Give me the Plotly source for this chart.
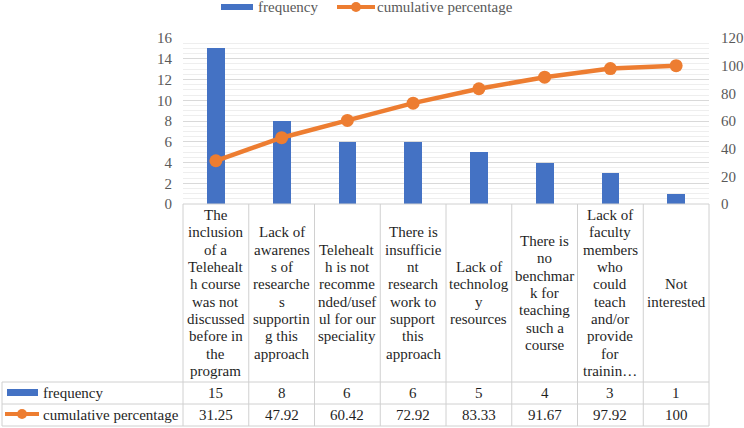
import plotly.graph_objects as go

# ---------------- data ----------------
category_lines = [
    ["The", "inclusion", "of a", "Telehealt", "h course", "was not", "discussed", "before in", "the", "program"],
    ["Lack of", "awarenes", "s of", "researche", "s", "supportin", "g this", "approach"],
    ["Telehealt", "h is not", "recomme", "nded/usef", "ul for our", "speciality"],
    ["There is", "insufficie", "nt", "research", "work to", "support", "this", "approach"],
    ["Lack of", "technolog", "y", "resources"],
    ["There is", "no", "benchmar", "k for", "teaching", "such a", "course"],
    ["Lack of", "faculty", "members", "who", "could", "teach", "and/or", "provide", "for", "trainin…"],
    ["Not", "interested"],
]
frequency = [15, 8, 6, 6, 5, 4, 3, 1]
cumulative_percentage = [31.25, 47.92, 60.42, 72.92, 83.33, 91.67, 97.92, 100]
frequency_labels = ["15", "8", "6", "6", "5", "4", "3", "1"]
cumulative_labels = ["31.25", "47.92", "60.42", "72.92", "83.33", "91.67", "97.92", "100"]
series_names = ["frequency", "cumulative percentage"]
left_ticks = [0, 2, 4, 6, 8, 10, 12, 14, 16]
right_ticks = [0, 20, 40, 60, 80, 100, 120]

# ---------------- style ----------------
W, H = 744, 428
BLUE = "#4472C4"
ORANGE = "#ED7D31"
GRID = "#D9D9D9"
MINOR = "#EEEEEE"
BORDER = "#D0D0D0"
AXIS_TXT = "#595959"
TXT = "#1F1F1F"
FONT = "Liberation Serif"
FS = 15

def X(px):
    return px / W

def Y(py):
    return 1 - py / H

plot_l, plot_r, plot_t, plot_b = 183, 709, 38, 204
n = len(category_lines)
col_w = (plot_r - plot_l) / n
x_idx = list(range(n))

fig = go.Figure()
fig.add_trace(go.Bar(
    x=x_idx, y=frequency, name=series_names[0], marker=dict(color=BLUE, line=dict(width=0)),
    width=0.27, yaxis="y", showlegend=False, hoverinfo="y"))
fig.add_trace(go.Scatter(
    x=x_idx, y=cumulative_percentage, name=series_names[1], mode="lines+markers",
    line=dict(color=ORANGE, width=4.5), marker=dict(color=ORANGE, size=13),
    yaxis="y2", showlegend=False, hoverinfo="y"))

shapes = []
annotations = []

# table grid
line_style = dict(color=BORDER, width=1)
for py, x0 in [(plot_b, plot_l), (382, 2), (404, 2), (426, 2)]:
    shapes.append(dict(type="line", xref="paper", yref="paper", x0=X(x0), x1=X(plot_r),
                       y0=Y(py), y1=Y(py), line=line_style))
for k in range(n + 1):
    px = plot_l + k * col_w
    shapes.append(dict(type="line", xref="paper", yref="paper", x0=X(px), x1=X(px),
                       y0=Y(plot_b), y1=Y(426), line=line_style))
shapes.append(dict(type="line", xref="paper", yref="paper", x0=X(2), x1=X(2),
                   y0=Y(382), y1=Y(426), line=line_style))

# category header text (one annotation per line, tight Excel line spacing)
header_center = (plot_b + 382) / 2
lh = 17.3
for i, lines in enumerate(category_lines):
    m = len(lines)
    for j, t in enumerate(lines):
        py = header_center + (j - (m - 1) / 2) * lh
        annotations.append(dict(x=i, xref="x", y=Y(py), yref="paper", text=t, showarrow=False,
                                xanchor="center", yanchor="middle",
                                font=dict(family=FONT, size=FS, color=TXT)))

# data rows
row1, row2 = 393, 415
for i in range(n):
    annotations.append(dict(x=i, xref="x", y=Y(row1), yref="paper", text=frequency_labels[i],
                            showarrow=False, xanchor="center", yanchor="middle",
                            font=dict(family=FONT, size=FS, color=TXT)))
    annotations.append(dict(x=i, xref="x", y=Y(row2), yref="paper", text=cumulative_labels[i],
                            showarrow=False, xanchor="center", yanchor="middle",
                            font=dict(family=FONT, size=FS, color=TXT)))

# table legend keys
shapes.append(dict(type="rect", xref="paper", yref="paper", x0=X(7), x1=X(38),
                   y0=Y(396), y1=Y(389), fillcolor=BLUE, line=dict(width=0)))
shapes.append(dict(type="line", xref="paper", yref="paper", x0=X(5), x1=X(39),
                   y0=Y(row2 - 1), y1=Y(row2 - 1), line=dict(color=ORANGE, width=4)))
shapes.append(dict(type="circle", xref="paper", yref="paper", x0=X(17), x1=X(27),
                   y0=Y(row2 + 4), y1=Y(row2 - 6), fillcolor=ORANGE, line=dict(width=0)))
annotations.append(dict(x=X(41), y=Y(row1), xref="paper", yref="paper", text=series_names[0],
                        showarrow=False, xanchor="left", yanchor="middle",
                        font=dict(family=FONT, size=FS, color=TXT)))
annotations.append(dict(x=X(41), y=Y(row2), xref="paper", yref="paper", text=series_names[1],
                        showarrow=False, xanchor="left", yanchor="middle",
                        font=dict(family=FONT, size=FS, color=TXT)))

# top legend
leg_y = 7
shapes.append(dict(type="rect", xref="paper", yref="paper", x0=X(221), x1=X(253),
                   y0=Y(leg_y + 3), y1=Y(leg_y - 3), fillcolor=BLUE, line=dict(width=0)))
annotations.append(dict(x=X(256), y=Y(leg_y), xref="paper", yref="paper", text=series_names[0],
                        showarrow=False, xanchor="left", yanchor="middle",
                        font=dict(family=FONT, size=FS, color=AXIS_TXT)))
shapes.append(dict(type="line", xref="paper", yref="paper", x0=X(337), x1=X(375),
                   y0=Y(leg_y), y1=Y(leg_y), line=dict(color=ORANGE, width=4)))
shapes.append(dict(type="circle", xref="paper", yref="paper", x0=X(351), x1=X(361),
                   y0=Y(leg_y + 5), y1=Y(leg_y - 5), fillcolor=ORANGE, line=dict(width=0)))
annotations.append(dict(x=X(375), y=Y(leg_y), xref="paper", yref="paper", text=series_names[1],
                        showarrow=False, xanchor="left", yanchor="middle",
                        font=dict(family=FONT, size=FS, color=AXIS_TXT)))

fig.update_layout(
    width=W, height=H, margin=dict(l=0, r=0, t=0, b=0, autoexpand=False),
    paper_bgcolor="white", plot_bgcolor="white",
    showlegend=False, bargap=0,
    font=dict(family=FONT, size=FS),
    xaxis=dict(domain=[X(plot_l), X(plot_r)], range=[-0.5, n - 0.5], showticklabels=False,
               showgrid=False, zeroline=False, showline=False, ticks="", fixedrange=True),
    yaxis=dict(domain=[Y(plot_b), Y(plot_t)], range=[0, 16], tickvals=left_ticks,
               showgrid=True, gridcolor=GRID, gridwidth=1, zeroline=False, showline=False,
               minor=dict(dtick=0.5, showgrid=True, gridcolor=MINOR, gridwidth=1),
               ticks="", ticklabelstandoff=10,
               tickfont=dict(family=FONT, size=FS, color=AXIS_TXT)),
    yaxis2=dict(overlaying="y", side="right", range=[0, 120], tickvals=right_ticks,
                showgrid=False, zeroline=False, showline=False, ticks="", ticklabelstandoff=11,
                tickfont=dict(family=FONT, size=FS, color=AXIS_TXT)),
    shapes=shapes, annotations=annotations,
)

fig.write_html("out.html")
